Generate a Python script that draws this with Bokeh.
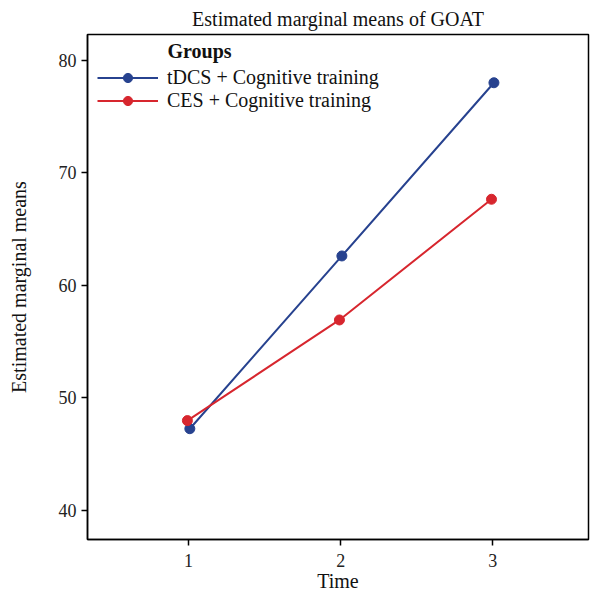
from bokeh.plotting import figure
from bokeh.models import Range1d, FixedTicker, Legend, LegendItem, Label
from bokeh.embed import file_html
from bokeh.resources import INLINE

# Data
time = [1, 2, 3]
groups = ["tDCS + Cognitive training", "CES + Cognitive training"]
tdcs = [47.26, 62.62, 78.02]
ces = [47.98, 56.93, 67.66]
x_ticks = [1, 2, 3]
y_ticks = [40, 50, 60, 70, 80]

BLUE = "#27428f"
RED = "#d7262e"
FONT = "Liberation Serif"
dodge = 0.008

p = figure(width=590, height=594, output_backend="svg", toolbar_location=None,
           x_range=Range1d(0.335, 3.63), y_range=Range1d(37.41, 82.31),
           min_border_left=87, min_border_right=2, min_border_top=34, min_border_bottom=52)

p.title.text = "Estimated marginal means of GOAT"
p.title.align = "center"
p.title.text_font = FONT
p.title.text_font_size = "20px"
p.title.text_font_style = "normal"
p.title.text_color = "#111111"

p.grid.visible = False
p.outline_line_color = "black"
p.outline_line_width = 1.5
p.background_fill_color = "white"
p.border_fill_color = "white"

for ax in (p.xaxis[0], p.yaxis[0]):
    ax.axis_line_color = "black"
    ax.axis_line_width = 1.5
    ax.major_tick_line_color = "black"
    ax.major_tick_line_width = 1.5
    ax.major_tick_out = 6
    ax.major_tick_in = 0
    ax.minor_tick_line_color = None
    ax.major_label_text_font = FONT
    ax.major_label_text_font_size = "18px"
    ax.major_label_text_color = "#222222"
    ax.axis_label_text_font = FONT
    ax.axis_label_text_font_size = "20px"
    ax.axis_label_text_font_style = "normal"
    ax.axis_label_text_color = "#111111"

p.xaxis.ticker = FixedTicker(ticks=x_ticks)
p.yaxis.ticker = FixedTicker(ticks=y_ticks)
p.xaxis.axis_label = "Time"
p.yaxis.axis_label = "Estimated marginal means"
p.xaxis.major_label_standoff = 8
p.xaxis.axis_label_standoff = 0
p.yaxis.major_label_standoff = 5
p.yaxis.axis_label_standoff = 26

xb = [t + dodge for t in time]
xr = [t - dodge for t in time]
l1 = p.line(xb, tdcs, line_color=BLUE, line_width=2)
c1 = p.scatter(xb, tdcs, size=10, fill_color=BLUE, line_color=BLUE)
l2 = p.line(xr, ces, line_color=RED, line_width=2)
c2 = p.scatter(xr, ces, size=10, fill_color=RED, line_color=RED)

legend = Legend(items=[LegendItem(label=groups[0], renderers=[l1, c1]),
                       LegendItem(label=groups[1], renderers=[l2, c2])],
                location="top_left")
legend.border_line_color = None
legend.background_fill_alpha = 0
legend.margin = 10
legend.padding = 0
legend.glyph_width = 61
legend.glyph_height = 23
legend.label_height = 23
legend.spacing = 0
legend.label_standoff = 9
legend.label_text_font = FONT
legend.label_text_font_size = "20px"
legend.label_text_color = "#111111"
legend.title = " "
legend.title_text_font_size = "14px"
legend.title_standoff = 6
p.add_layout(legend)

grp = Label(x=80, y=489, x_units="screen", y_units="screen", text="Groups",
            text_font=FONT, text_font_size="20px", text_font_style="bold",
            text_color="#111111", text_baseline="middle", text_align="left")
p.add_layout(grp)

open("out.html", "w").write(file_html(p, INLINE))
